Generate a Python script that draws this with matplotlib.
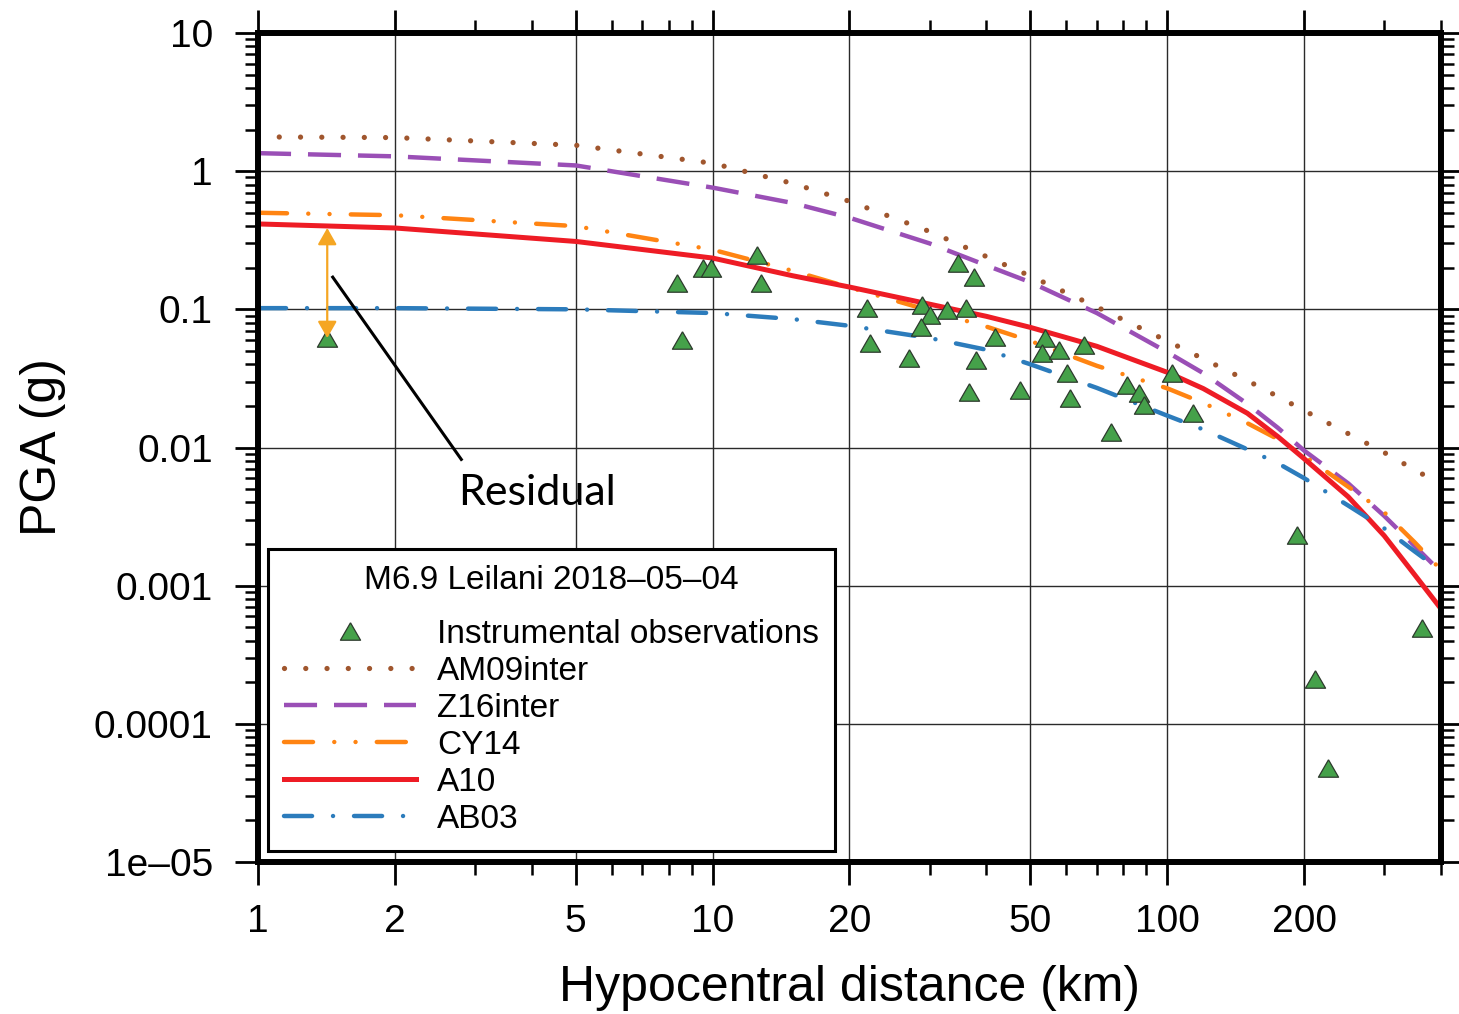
import numpy as np
import matplotlib
matplotlib.use("Agg")
import matplotlib.pyplot as plt
from matplotlib.ticker import LogLocator, NullFormatter
from matplotlib.font_manager import FontProperties

plt.rcParams['font.family'] = ['Liberation Sans', 'DejaVu Sans']
plt.rcParams['lines.scale_dashes'] = False

# ---------------- data ----------------
obs_dist = [1.42, 8.33, 8.55, 9.51, 9.90, 12.5, 12.75, 21.8, 22.2, 27.0, 28.9, 30.0,
            28.7, 32.7, 36.1, 34.7, 37.5, 38.0, 36.7, 41.7, 47.5, 53.7, 52.9, 57.9,
            65.7, 60.3, 61.2, 75.3, 81.6, 86.8, 89.0, 102.5, 114.0, 193, 363, 211, 226]
obs_pga = [0.062, 0.155, 0.060, 0.199, 0.199, 0.247, 0.155, 0.102, 0.057, 0.0444, 0.107, 0.091,
           0.0745, 0.0989, 0.102, 0.216, 0.171, 0.043, 0.0252, 0.063, 0.026, 0.062, 0.0483, 0.0508,
           0.0552, 0.0346, 0.0228, 0.01294, 0.0283, 0.0248, 0.0203, 0.0346, 0.0178, 0.00233,
           0.000494, 0.000211, 4.79e-5]

gmpe_dist = [1, 2, 5, 10, 15, 20, 30, 40, 50, 70, 100, 120, 150, 175, 200, 250, 300, 350, 400]
am09inter = [1.77, 1.75, 1.54, 1.14, 0.815, 0.605, 0.366, 0.241, 0.174, 0.104, 0.059, 0.0438,
             0.0305, 0.0234, 0.0185, 0.0126, 0.0092, 0.0069, 0.0054]
z16inter = [1.35, 1.28, 1.10, 0.76, 0.588, 0.46, 0.30, 0.208, 0.157, 0.094, 0.049, 0.0345,
            0.0207, 0.0139, 0.0095, 0.0055, 0.0032, 0.00194, 0.00125]
cy14 = [0.50, 0.48, 0.40, 0.27, 0.19, 0.144, 0.098, 0.075, 0.059, 0.039, 0.0268, 0.021,
        0.015, 0.0115, 0.0087, 0.0052, 0.0034, 0.00206, 0.0013]
a10 = [0.415, 0.388, 0.31, 0.235, 0.175, 0.145, 0.109, 0.089, 0.074, 0.054, 0.035, 0.0267,
       0.0177, 0.012, 0.0083, 0.0044, 0.0023, 0.0012, 0.00068]
ab03 = [0.102, 0.102, 0.100, 0.094, 0.085, 0.076, 0.062, 0.051, 0.040, 0.027, 0.017, 0.0135,
        0.0097, 0.0077, 0.0060, 0.0038, 0.0026, 0.00177, 0.00128]

x_major = [1, 2, 5, 10, 20, 50, 100, 200]
x_major_labels = ['1', '2', '5', '10', '20', '50', '100', '200']
x_minor = [3, 4, 6, 7, 8, 9, 30, 40, 60, 70, 80, 90, 300, 400]
y_major = [1e-5, 1e-4, 1e-3, 1e-2, 1e-1, 1, 10]
y_major_labels = ['1e\u201305', '0.0001', '0.001', '0.01', '0.1', '1', '10']

legend_title = 'M6.9 Leilani 2018\u201305\u201304'

# residual annotation
resid_x = 1.42
resid_top = 0.388
resid_bottom = 0.062
leader_x = [1.46, 2.80]
leader_y = [0.171, 0.0082]
resid_label_xy = (2.76, 0.0047)

# ---------------- figure ----------------
W, H = 1459, 1014
fig = plt.figure(figsize=(W / 100, H / 100), dpi=100)
L, R, T, B = 258, 1441, 33, 862
ax = fig.add_axes([L / W, 1 - B / H, (R - L) / W, (B - T) / H])
ax.set_xscale('log')
ax.set_yscale('log')
ax.set_xlim(1, 400)
ax.set_ylim(1e-5, 10)

ax.grid(True, which='major', color='#2a2a2a', lw=1.0, zorder=0)
ax.set_axisbelow(True)

lw = 3.0
ax.plot(gmpe_dist, am09inter, color='#a0562e', lw=3.8, dashes=(0.01, 15.3),
        dash_capstyle='round', label='AM09inter', zorder=3)
ax.plot(gmpe_dist, z16inter, color='#9a4fb6', lw=3.2, dashes=(23.8, 12.2),
        dash_capstyle='butt', label='Z16inter', zorder=3)
ax.plot(gmpe_dist, cy14, color='#ff8412', lw=3.2, dashes=(20.9, 15.3, 0.01, 15.3, 0.01, 15.3),
        dash_capstyle='round', label='CY14', zorder=3)
ax.plot(gmpe_dist, a10, color='#ee1c25', lw=3.6, label='A10', zorder=3)
ax.plot(gmpe_dist, ab03, color='#2c7cbc', lw=3.2, dashes=(20.2, 15.1, 0.01, 15.1),
        dash_capstyle='round', label='AB03', zorder=3)

tri = [(0, 0.866), (-1, -0.866), (1, -0.866), (0, 0.866)]
obs_line, = ax.plot(obs_dist, obs_pga, linestyle='none', marker=tri, ms=14.5,
                    markerfacecolor='#45a14a', markeredgecolor='#2d3a2d', markeredgewidth=0.9,
                    label='Instrumental observations', zorder=4)

# residual arrow + leader
ax.annotate('', xy=(resid_x, resid_bottom), xytext=(resid_x, resid_top),
            arrowprops=dict(arrowstyle='<|-|>,head_length=0.42,head_width=0.24',
                            color='#f5a623', lw=1.6, shrinkA=0, shrinkB=0, mutation_scale=24),
            zorder=5)
ax.plot(leader_x, leader_y, color='black', lw=2.2, zorder=5)
ax.text(resid_label_xy[0], resid_label_xy[1], 'Residual', family=['Lato', 'DejaVu Sans'],
        fontsize=31, ha='left', va='center', zorder=5)

# ticks
ax.set_xticks(x_major, x_major_labels)
ax.set_xticks(x_minor, minor=True)
ax.xaxis.set_minor_formatter(NullFormatter())
ax.set_yticks(y_major, y_major_labels)
ax.yaxis.set_minor_locator(LogLocator(base=10, subs=np.arange(2, 10), numticks=20))
ax.yaxis.set_minor_formatter(NullFormatter())

ax.tick_params(which='major', direction='out', length=16.5, width=2.0, labelsize=28,
               top=True, right=True, labeltop=False, labelright=False)
ax.tick_params(which='minor', direction='out', length=9.4, width=1.8,
               top=True, right=True)
ax.tick_params(axis='x', which='major', pad=14)
ax.tick_params(axis='y', which='major', pad=16)

for s in ax.spines.values():
    s.set_linewidth(4.3)
    s.set_zorder(6)

ax.set_xlabel('Hypocentral distance (km)', fontsize=36, labelpad=18)
ax.set_ylabel('PGA (g)', fontsize=36, labelpad=20)

# legend
fp = FontProperties(family=['Liberation Sans', 'DejaVu Sans'], size=24)
handles, labels = ax.get_legend_handles_labels()
order = ['Instrumental observations', 'AM09inter', 'Z16inter', 'CY14', 'A10', 'AB03']
hmap = dict(zip(labels, handles))
leg = ax.legend([hmap[k] for k in order], order, loc='lower left',
                bbox_to_anchor=(10 / (R - L), 11 / (B - T)), borderaxespad=0,
                title=legend_title, prop=fp, title_fontproperties=fp,
                handlelength=3.96, handletextpad=0.63, labelspacing=0.18, borderpad=0.48,
                frameon=True, fancybox=False, edgecolor='black', framealpha=1, numpoints=1)
leg.get_frame().set_linewidth(2.2)
leg._legend_box.sep = 16.6
leg.set_zorder(7)

fig.savefig('out.png', dpi=100, facecolor='white')
